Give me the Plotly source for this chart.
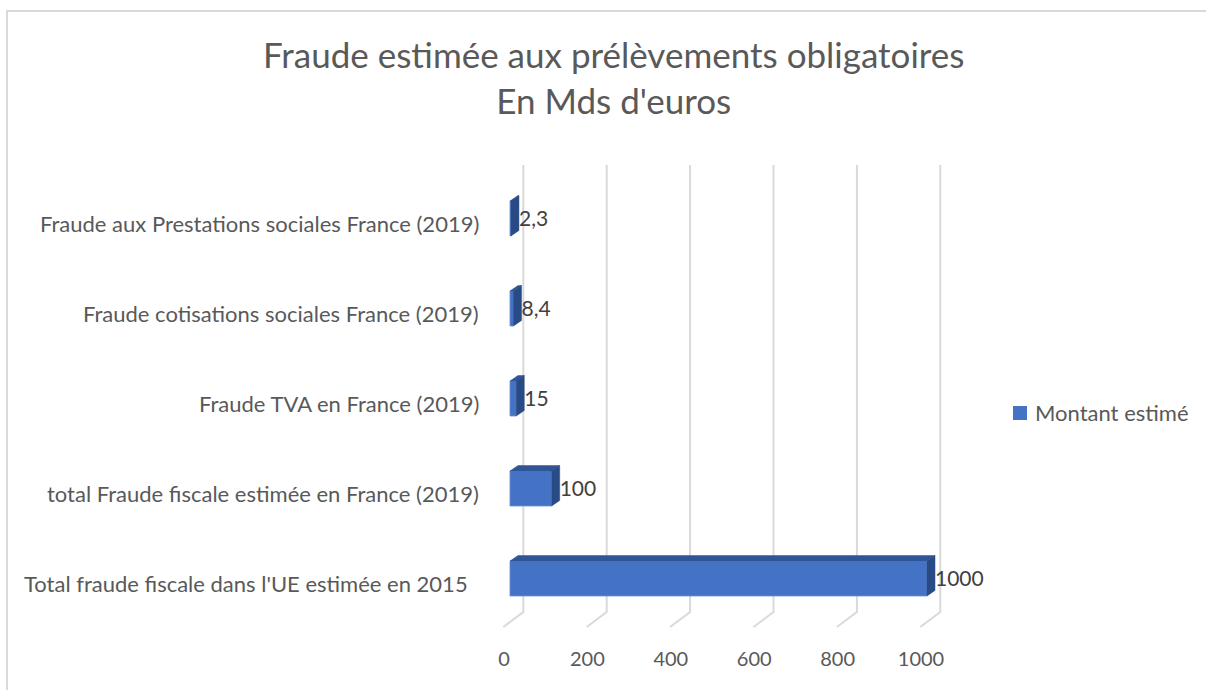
import plotly.graph_objects as go

# ---------------- data ----------------
categories = [
    "Fraude aux Prestations sociales France (2019)",
    "Fraude cotisations sociales France (2019)",
    "Fraude TVA en France (2019)",
    "total Fraude fiscale estimée en France (2019)",
    "Total fraude fiscale dans l'UE estimée en 2015",
]
values = [2.3, 8.4, 15, 100, 1000]
series_name = "Montant estimé"
x_ticks = [0, 200, 400, 600, 800, 1000]
title_lines = ["Fraude estimée aux prélèvements obligatoires", "En Mds d'euros"]

# ---------------- layout geometry ----------------
W, H = 1206, 690
FONT = "Lato"
TXT = "#595959"
BAR = "#4472C4"
TOP = "#2F5597"
SIDE = "#284A85"
GRID = "#D9D9D9"

def pxx(x):
    return x / W

def pyy(y):
    return 1 - y / H

PPU_X = 417.0 / 1000  # pixels per data unit (x)
PPU_Y = 90.0          # pixels per category (y)
X0_PX = 510.0
Y0_PX = 218.5
x_range = [-30, 1100]
y_range = [4.95, -0.75]
x_dom = [pxx(X0_PX + x_range[0] * PPU_X), pxx(X0_PX + x_range[1] * PPU_X)]
y_dom = [pyy(Y0_PX + y_range[0] * PPU_Y), pyy(Y0_PX + y_range[1] * PPU_Y)]

DX = 8.0 / PPU_X      # 3D depth offset in x units
DY = 5.5 / PPU_Y      # 3D depth offset in y units
BW = 35.0 / PPU_Y     # bar thickness
LBL_DY = 2.5 / PPU_Y  # data label vertical nudge

ypos = list(range(len(categories)))

fig = go.Figure()

# back-wall gridlines + floor (as shapes below the traces)
shapes = []
back_dx = 13.3 / PPU_X
front_dx = -6.7 / PPU_X
g_top = (165 - Y0_PX) / PPU_Y
g_bot = (612 - Y0_PX) / PPU_Y
g_front = (627 - Y0_PX) / PPU_Y
for t in x_ticks:
    path = "M %f,%f L %f,%f L %f,%f" % (t + back_dx, g_top, t + back_dx, g_bot, t + front_dx, g_front)
    shapes.append(dict(type="path", path=path, xref="x", yref="y", layer="below",
                       line=dict(color=GRID, width=2)))

# front faces
fig.add_trace(go.Bar(
    x=values, y=ypos, orientation="h", width=BW, name=series_name,
    marker=dict(color=BAR, line=dict(color="#6A8FD2", width=0.8)),
    showlegend=False,
))

# top and side faces
tx, ty, sx, sy = [], [], [], []
for v, y in zip(values, ypos):
    top = y - BW / 2
    bot = y + BW / 2
    tx += [0, v, v + DX, DX, 0, None]
    ty += [top, top, top - DY, top - DY, top, None]
    sx += [v, v, v + DX, v + DX, v, None]
    sy += [top, bot, bot - DY, top - DY, top, None]
fig.add_trace(go.Scatter(x=tx, y=ty, mode="lines", fill="toself", fillcolor=TOP,
                         line=dict(color=TOP, width=0.5), hoverinfo="skip", showlegend=False))
fig.add_trace(go.Scatter(x=sx, y=sy, mode="lines", fill="toself", fillcolor=SIDE,
                         line=dict(color=SIDE, width=0.5), hoverinfo="skip", showlegend=False))

# data labels
labels = [("%g" % v).replace(".", ",") for v in values]
fig.add_trace(go.Scatter(
    x=[v + DX for v in values], y=[y + LBL_DY for y in ypos], mode="text", text=labels,
    cliponaxis=False, textposition="middle right",
    textfont=dict(family=FONT, size=21, color="#404040"),
    hoverinfo="skip", showlegend=False,
))

# category labels
label_right = [481, 481, 481, 481, 470]
annotations = []
for c, y, r in zip(categories, ypos, label_right):
    annotations.append(dict(
        text=c, x=pxx(r), xref="paper", xanchor="right", y=y, yref="y", yanchor="middle",
        yshift=-5, showarrow=False, font=dict(family=FONT, size=22, color=TXT),
    ))
annotations.append(dict(
    text="<br>".join(title_lines), x=pxx(613), xref="paper", xanchor="center",
    y=pyy(31), yref="paper", yanchor="top", showarrow=False, align="center",
    font=dict(family=FONT, size=35, color=TXT),
))
# legend (manual, to match the compact layout)
annotations.append(dict(
    text=series_name, x=pxx(1033), xref="paper", xanchor="left",
    y=pyy(413), yref="paper", yanchor="middle", showarrow=False,
    font=dict(family=FONT, size=22, color=TXT),
))
shapes.append(dict(type="rect", xref="paper", yref="paper", x0=pxx(1013), x1=pxx(1027),
                   y0=pyy(420), y1=pyy(406), fillcolor=BAR, line=dict(width=0)))

shapes.append(dict(type="rect", xref="paper", yref="paper", x0=pxx(7), x1=pxx(1215),
                   y0=pyy(700), y1=pyy(11), line=dict(color=GRID, width=2)))

fig.update_layout(
    width=W, height=H, margin=dict(l=0, r=0, t=0, b=0),
    paper_bgcolor="white", plot_bgcolor="rgba(0,0,0,0)",
    font=dict(family=FONT, color=TXT),
    barmode="overlay", showlegend=False,
    xaxis=dict(domain=x_dom, range=x_range, showgrid=False, zeroline=False, showline=False,
               tickvals=x_ticks, ticktext=[str(t) for t in x_ticks], ticks="",
               anchor="free", position=pyy(645), ticklabelshift=-6,
               tickfont=dict(family=FONT, size=20, color=TXT), fixedrange=True),
    yaxis=dict(domain=y_dom, range=y_range, showgrid=False, zeroline=False, showline=False,
               showticklabels=False, ticks="", fixedrange=True),
    annotations=annotations,
    shapes=shapes,
)

fig.write_html("out.html")
